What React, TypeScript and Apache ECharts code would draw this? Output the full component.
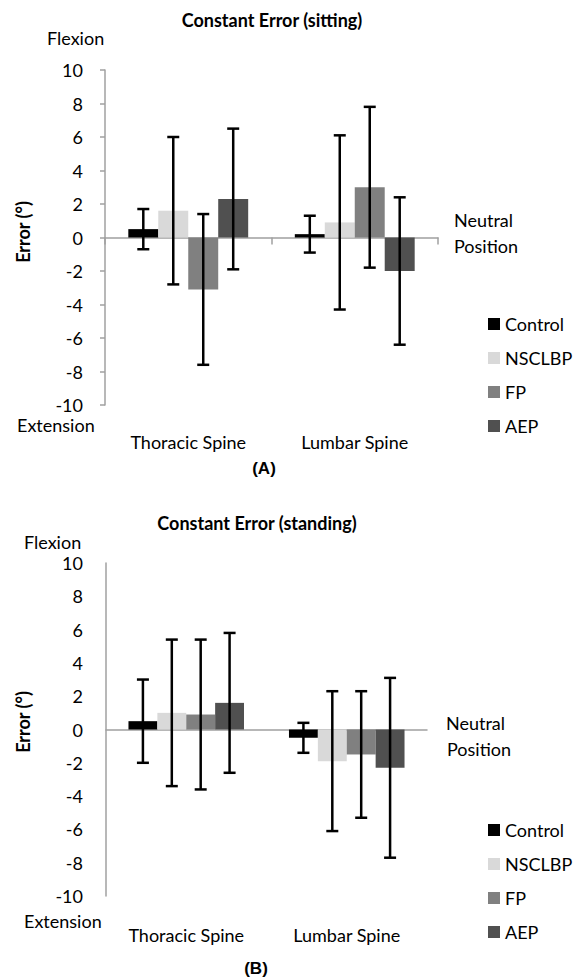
import React, { useEffect, useRef } from "react";
import * as echarts from "echarts";

const categories = ["Thoracic Spine", "Lumbar Spine"];
const groups = ["Control", "NSCLBP", "FP", "AEP"];
const colors = ["#000000", "#d9d9d9", "#808080", "#505050"];
const yTicks = { min: -10, max: 10, interval: 2 };

// Sitting (A): mean per group for [Thoracic, Lumbar] and SD
const sitControlMean = [0.5, 0.2];
const sitNSCLBPMean = [1.6, 0.9];
const sitFPMean = [-3.1, 3.0];
const sitAEPMean = [2.3, -2.0];
const sitControlSD = [1.2, 1.1];
const sitNSCLBPSD = [4.4, 5.2];
const sitFPSD = [4.5, 4.8];
const sitAEPSD = [4.2, 4.4];

// Standing (B)
const stdControlMean = [0.5, -0.5];
const stdNSCLBPMean = [1.0, -1.9];
const stdFPMean = [0.9, -1.5];
const stdAEPMean = [1.6, -2.3];
const stdControlSD = [2.5, 0.9];
const stdNSCLBPSD = [4.4, 4.2];
const stdFPSD = [4.5, 3.8];
const stdAEPSD = [4.2, 5.4];

const sitMeans = [sitControlMean, sitNSCLBPMean, sitFPMean, sitAEPMean];
const sitSDs = [sitControlSD, sitNSCLBPSD, sitFPSD, sitAEPSD];
const stdMeans = [stdControlMean, stdNSCLBPMean, stdFPMean, stdAEPMean];
const stdSDs = [stdControlSD, stdNSCLBPSD, stdFPSD, stdAEPSD];

const GAP = 0.28;
const FONT = "Lato";
const AXIS_GREY = "#a0a0a0";

function errorSeries(xi: number, yi: number, means: number[][], sds: number[][]) {
  const data: number[][] = [];
  means.forEach((m, g) => {
    m.forEach((v, c) => {
      data.push([c, g, v - sds[g][c], v + sds[g][c]]);
    });
  });
  return {
    type: "custom",
    xAxisIndex: xi,
    yAxisIndex: yi,
    z: 10,
    silent: true,
    encode: { x: 0, y: [2, 3] },
    data,
    renderItem: (_params: any, api: any) => {
      const c = api.value(0);
      const g = api.value(1);
      const bw = api.size([1, 0])[0];
      const barW = (bw * (1 - GAP)) / 4;
      const cx = api.coord([c, 0])[0] - 2 * barW + (g + 0.5) * barW;
      const yl = api.coord([c, api.value(2)])[1];
      const yh = api.coord([c, api.value(3)])[1];
      const style = { stroke: "#000", lineWidth: 2.5 };
      const cap = 6;
      return {
        type: "group",
        children: [
          { type: "line", shape: { x1: cx, y1: yl, x2: cx, y2: yh }, style },
          { type: "line", shape: { x1: cx - cap, y1: yh, x2: cx + cap, y2: yh }, style },
          { type: "line", shape: { x1: cx - cap, y1: yl, x2: cx + cap, y2: yl }, style },
        ],
      };
    },
  };
}

function barSeries(xi: number, yi: number, means: number[][]) {
  return means.map((m, g) => ({
    type: "bar",
    name: groups[g],
    xAxisIndex: xi,
    yAxisIndex: yi,
    data: m,
    barGap: "0%",
    barCategoryGap: GAP * 100 + "%",
    itemStyle: { color: colors[g] },
  }));
}

function txt(text: string, x: number, y: number, opts: any = {}) {
  return {
    type: "text",
    x,
    y,
    rotation: opts.rotation || 0,
    style: {
      text,
      fontSize: opts.fontSize || 18,
      fontFamily: opts.fontFamily || FONT,
      fontWeight: opts.fontWeight || "normal",
      fill: "#000",
      align: opts.align || "left",
      verticalAlign: "middle",
    },
  };
}

export default function App() {
  const ref = useRef<HTMLDivElement>(null);
  useEffect(() => {
    if (!ref.current) return;
    const chart = echarts.init(ref.current, undefined, { renderer: "svg" });
    const labelStyle = { fontSize: 18, fontFamily: FONT, color: "#000" };
    const legendBase = {
      data: groups,
      orient: "vertical",
      left: 483,
      itemWidth: 12,
      itemHeight: 12,
      itemGap: 16,
      icon: "rect",
      selectedMode: false,
      textStyle: { fontSize: 18, fontFamily: FONT, color: "#000" },
    };
    chart.setOption({
      animation: false,
      backgroundColor: "#ffffff",
      grid: [
        { left: 105, top: 70, width: 333, height: 335 },
        { left: 106, top: 563, width: 321, height: 333 },
      ],
      xAxis: [
        {
          type: "category",
          gridIndex: 0,
          data: categories,
          axisLine: { onZero: true, lineStyle: { color: AXIS_GREY, width: 1.5 } },
          axisTick: { show: true, length: 7, lineStyle: { color: AXIS_GREY, width: 1.5 } },
          axisLabel: { show: false },
        },
        {
          type: "category",
          gridIndex: 0,
          data: categories,
          position: "bottom",
          axisLine: { show: false, onZero: false },
          axisTick: { show: false },
          axisLabel: { ...labelStyle, margin: 28 },
        },
        {
          type: "category",
          gridIndex: 1,
          data: categories,
          axisLine: { onZero: true, lineStyle: { color: AXIS_GREY, width: 1.5 } },
          axisTick: { show: false },
          axisLabel: { show: false },
        },
        {
          type: "category",
          gridIndex: 1,
          data: categories,
          position: "bottom",
          axisLine: { show: false, onZero: false },
          axisTick: { show: false },
          axisLabel: { ...labelStyle, margin: 30 },
        },
      ],
      yAxis: [
        {
          type: "value",
          gridIndex: 0,
          ...yTicks,
          axisLine: { show: true, lineStyle: { color: AXIS_GREY, width: 1.5 } },
          axisTick: { show: true, length: 5, lineStyle: { color: AXIS_GREY, width: 1.5 } },
          splitLine: { show: false },
          axisLabel: { ...labelStyle, margin: 22 },
        },
        {
          type: "value",
          gridIndex: 1,
          ...yTicks,
          axisLine: { show: true, lineStyle: { color: AXIS_GREY, width: 1.5 } },
          axisTick: { show: false },
          splitLine: { show: false },
          axisLabel: { ...labelStyle, margin: 23 },
        },
      ],
      legend: [
        { ...legendBase, top: 310 },
        { ...legendBase, top: 816 },
      ],
      series: [
        ...barSeries(0, 0, sitMeans),
        errorSeries(0, 0, sitMeans, sitSDs),
        ...barSeries(2, 1, stdMeans),
        errorSeries(2, 1, stdMeans, stdSDs),
      ],
      graphic: [
        txt("Constant Error (sitting)", 272, 20, { fontSize: 18, fontWeight: "bold", align: "center" }),
        txt("Flexion", 47, 38),
        txt("Extension", 17, 425),
        txt("Neutral", 454, 220),
        txt("Position", 454, 246),
        txt("Error (°)", 23, 232, { fontSize: 18, fontWeight: "bold", align: "center", rotation: Math.PI / 2 }),
        txt("(A)", 264, 468, { fontSize: 17, fontWeight: "bold", align: "center", fontFamily: "Liberation Sans" }),
        txt("Constant Error (standing)", 257, 523, { fontSize: 18, fontWeight: "bold", align: "center" }),
        txt("Flexion", 24, 542),
        txt("Extension", 24, 921),
        txt("Neutral", 446, 723),
        txt("Position", 447, 749),
        txt("Error (°)", 23, 722, { fontSize: 18, fontWeight: "bold", align: "center", rotation: Math.PI / 2 }),
        txt("(B)", 256, 968, { fontSize: 17, fontWeight: "bold", align: "center", fontFamily: "Liberation Sans" }),
      ],
    });
    return () => chart.dispose();
  }, []);
  return (
    <div
      ref={ref}
      style={{ position: "absolute", left: 0, top: 0, width: 575, height: 980, background: "#fff" }}
    />
  );
}
